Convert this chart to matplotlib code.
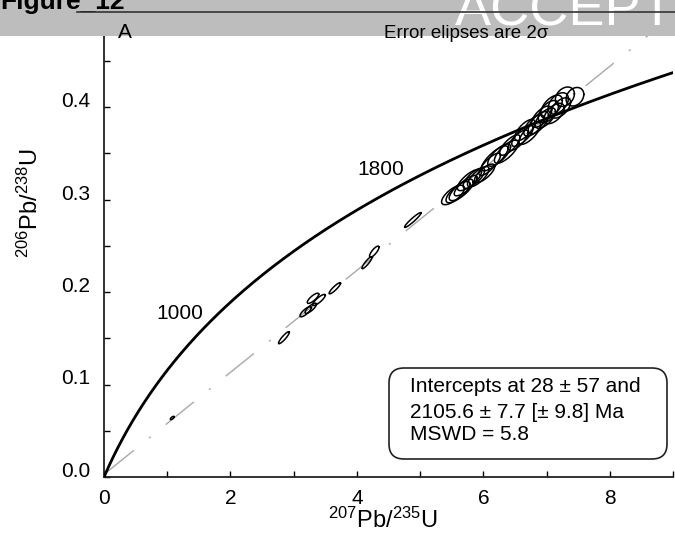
import numpy as np
import matplotlib
matplotlib.use("Agg")
import matplotlib.pyplot as plt
from matplotlib.patches import FancyBboxPatch, Rectangle
from matplotlib.lines import Line2D

plt.rcParams['font.family'] = ['Liberation Sans', 'DejaVu Sans']
plt.rcParams['mathtext.fontset'] = 'custom'
plt.rcParams['mathtext.rm'] = 'Liberation Sans'
plt.rcParams['mathtext.it'] = 'Liberation Sans:italic'
plt.rcParams['mathtext.bf'] = 'Liberation Sans:bold'

# ---- data ----
L238 = 1.55125e-10
L235 = 9.8485e-10
lower_intercept_ma = 28.0
upper_intercept_ma = 2105.6

# error ellipses: centre (207/235, 206/238), 2-sigma half widths, correlation
ell_x = [1.079, 2.846, 3.19, 3.27, 3.306, 3.40, 3.651, 4.16, 4.275, 4.884,
         5.52, 5.60, 5.65, 5.72, 5.78, 5.85, 5.92, 6.02, 6.10, 6.18, 6.25,
         6.365, 6.42, 6.55, 6.62, 6.656, 6.735, 6.80, 6.87, 6.921, 6.98,
         7.03, 7.079, 7.12, 7.185, 7.22, 7.29, 7.449]
ell_y = [0.0638, 0.1506, 0.1787, 0.1824, 0.1932, 0.1914, 0.204, 0.2317, 0.2436, 0.2778,
         0.3049, 0.3080, 0.3103, 0.3150, 0.3211, 0.3230, 0.3246, 0.3283, 0.3380, 0.3445, 0.3480,
         0.3517, 0.3589, 0.3640, 0.3690, 0.3751, 0.3716, 0.3800, 0.3830, 0.3895, 0.3880,
         0.3950, 0.4003, 0.3930, 0.4039, 0.3990, 0.4111, 0.4111]
ell_sx = [0.03, 0.085, 0.09, 0.09, 0.09, 0.10, 0.09, 0.08, 0.075, 0.13,
          0.18, 0.19, 0.19, 0.18, 0.19, 0.17, 0.17, 0.16, 0.17, 0.21, 0.18,
          0.19, 0.16, 0.16, 0.17, 0.16, 0.17, 0.16, 0.16, 0.16, 0.16,
          0.16, 0.17, 0.16, 0.16, 0.16, 0.15, 0.14]
ell_sy = [0.0018, 0.0065, 0.0055, 0.0055, 0.0055, 0.006, 0.006, 0.0065, 0.006, 0.008,
          0.0105, 0.0115, 0.0115, 0.011, 0.0115, 0.011, 0.011, 0.010, 0.012, 0.0135, 0.012,
          0.0125, 0.011, 0.011, 0.0115, 0.0115, 0.012, 0.0115, 0.012, 0.0115, 0.011,
          0.012, 0.0125, 0.011, 0.0115, 0.011, 0.0105, 0.0100]
ell_rho = [0.7, 0.9, 0.8, 0.8, 0.8, 0.85, 0.9, 0.9, 0.8, 0.95,
           0.7, 0.75, 0.75, 0.8, 0.75, 0.75, 0.75, 0.75, 0.8, 0.8, 0.75,
           0.75, 0.75, 0.75, 0.75, 0.7, 0.75, 0.65, 0.65, 0.65, 0.65,
           0.55, 0.55, 0.55, 0.45, 0.55, 0.3, 0.25]

W, H = 675, 533
fig = plt.figure(figsize=(W / 100, H / 100), dpi=100)
fig.patch.set_facecolor('white')

# grey page banner at top
fig.patches.append(Rectangle((0, 1 - 36 / H), 1, 36 / H, transform=fig.transFigure,
                             facecolor='#bdbdbd', edgecolor='none', zorder=0))
fig.text(0.0, 1 - 9 / H, 'Figure_12', fontsize=19, fontweight='bold',
         ha='left', va='baseline', color='black', zorder=1)
fig.text(455 / W, 1 - 26 / H, 'ACCEPT', fontsize=39, color='white',
         ha='left', va='baseline', zorder=1)
fig.lines.append(Line2D([77 / W, 1], [1 - 12 / H, 1 - 12 / H], transform=fig.transFigure,
                        color='#333333', lw=1.2, zorder=2))

ax = fig.add_axes([104 / W, 1 - 477 / H, 569 / W, 465 / H])
ax.set_facecolor('none')
ax.set_xlim(0, 9)
ax.set_ylim(0, 465 / 925)

# concordia
t = np.linspace(0, 2500e6, 800)
cx = np.exp(L235 * t) - 1
cy = np.exp(L238 * t) - 1
ax.plot(cx, cy, color='black', lw=2.0, zorder=3)

# discordia
def conc(ma):
    tt = ma * 1e6
    return np.exp(L235 * tt) - 1, np.exp(L238 * tt) - 1

lx, ly = conc(lower_intercept_ma)
ux, uy = conc(upper_intercept_ma)
slope = (uy - ly) / (ux - lx)
dx = np.array([lx, 10])
ax.plot(dx, ly + slope * (dx - lx), color='#a8a8a8', lw=1.0,
        dashes=(26, 14, 1.5, 14), zorder=2)

# age labels
ax.text(1.206, 0.177, '1000', fontsize=15, ha='center', va='center')
ax.text(4.381, 0.332, '1800', fontsize=15, ha='center', va='center')

# ellipses
th = np.linspace(0, 2 * np.pi, 120)
for x0, y0, sx, sy, r in zip(ell_x, ell_y, ell_sx, ell_sy, ell_rho):
    ex = x0 + sx * np.cos(th)
    ey = y0 + sy * (r * np.cos(th) + np.sqrt(1 - r * r) * np.sin(th))
    ax.plot(ex, ey, color='black', lw=1.1, zorder=4)

# axes styling
ax.spines['right'].set_visible(False)
for s in ['left', 'bottom', 'top']:
    ax.spines[s].set_linewidth(1.3)
    ax.spines[s].set_color('#222222')
ax.set_xticks([0, 2, 4, 6, 8])
ax.set_xticks([1, 3, 5, 7, 9], minor=True)
ax.set_yticks([0.0, 0.1, 0.2, 0.3, 0.4])
ax.set_yticks([0.05, 0.15, 0.25, 0.35, 0.45], minor=True)
ax.set_yticklabels(['0.0', '0.1', '0.2', '0.3', '0.4'], va='baseline')
ax.tick_params(which='both', direction='in', length=4, width=1, labelsize=15,
               top=False, right=False)
ax.tick_params(axis='x', which='both', pad=9)
ax.tick_params(axis='y', which='both', pad=10)

# axis labels
fig.text(383 / W, 1 - 520 / H, r'$^{207}$Pb/$^{235}$U', fontsize=17,
         ha='center', va='center')
fig.text(30 / W, 1 - 203 / H, r'$^{206}$Pb/$^{238}$U', fontsize=17,
         ha='center', va='center', rotation=90)

# header texts
fig.text(125 / W, 1 - 33 / H, 'A', fontsize=15, ha='center', va='center')
fig.text(466 / W, 1 - 33 / H, 'Error elipses are 2σ', fontsize=13.5, ha='center', va='center')

# results box
box = FancyBboxPatch((3.89, (H - 459) / 100), 2.78, 0.91,
                     boxstyle='round,pad=0,rounding_size=0.15',
                     transform=fig.dpi_scale_trans, facecolor='white',
                     edgecolor='#222222', lw=1.2, zorder=5)
fig.patches.append(box)
lines = ['Intercepts at 28 ± 57 and', '2105.6 ± 7.7 [± 9.8] Ma', 'MSWD = 5.8']
for txt, yy in zip(lines, [387, 412, 435]):
    fig.text(410 / W, 1 - yy / H, txt, fontsize=15, ha='left', va='center', zorder=6)

fig.savefig('out.png', dpi=100)
